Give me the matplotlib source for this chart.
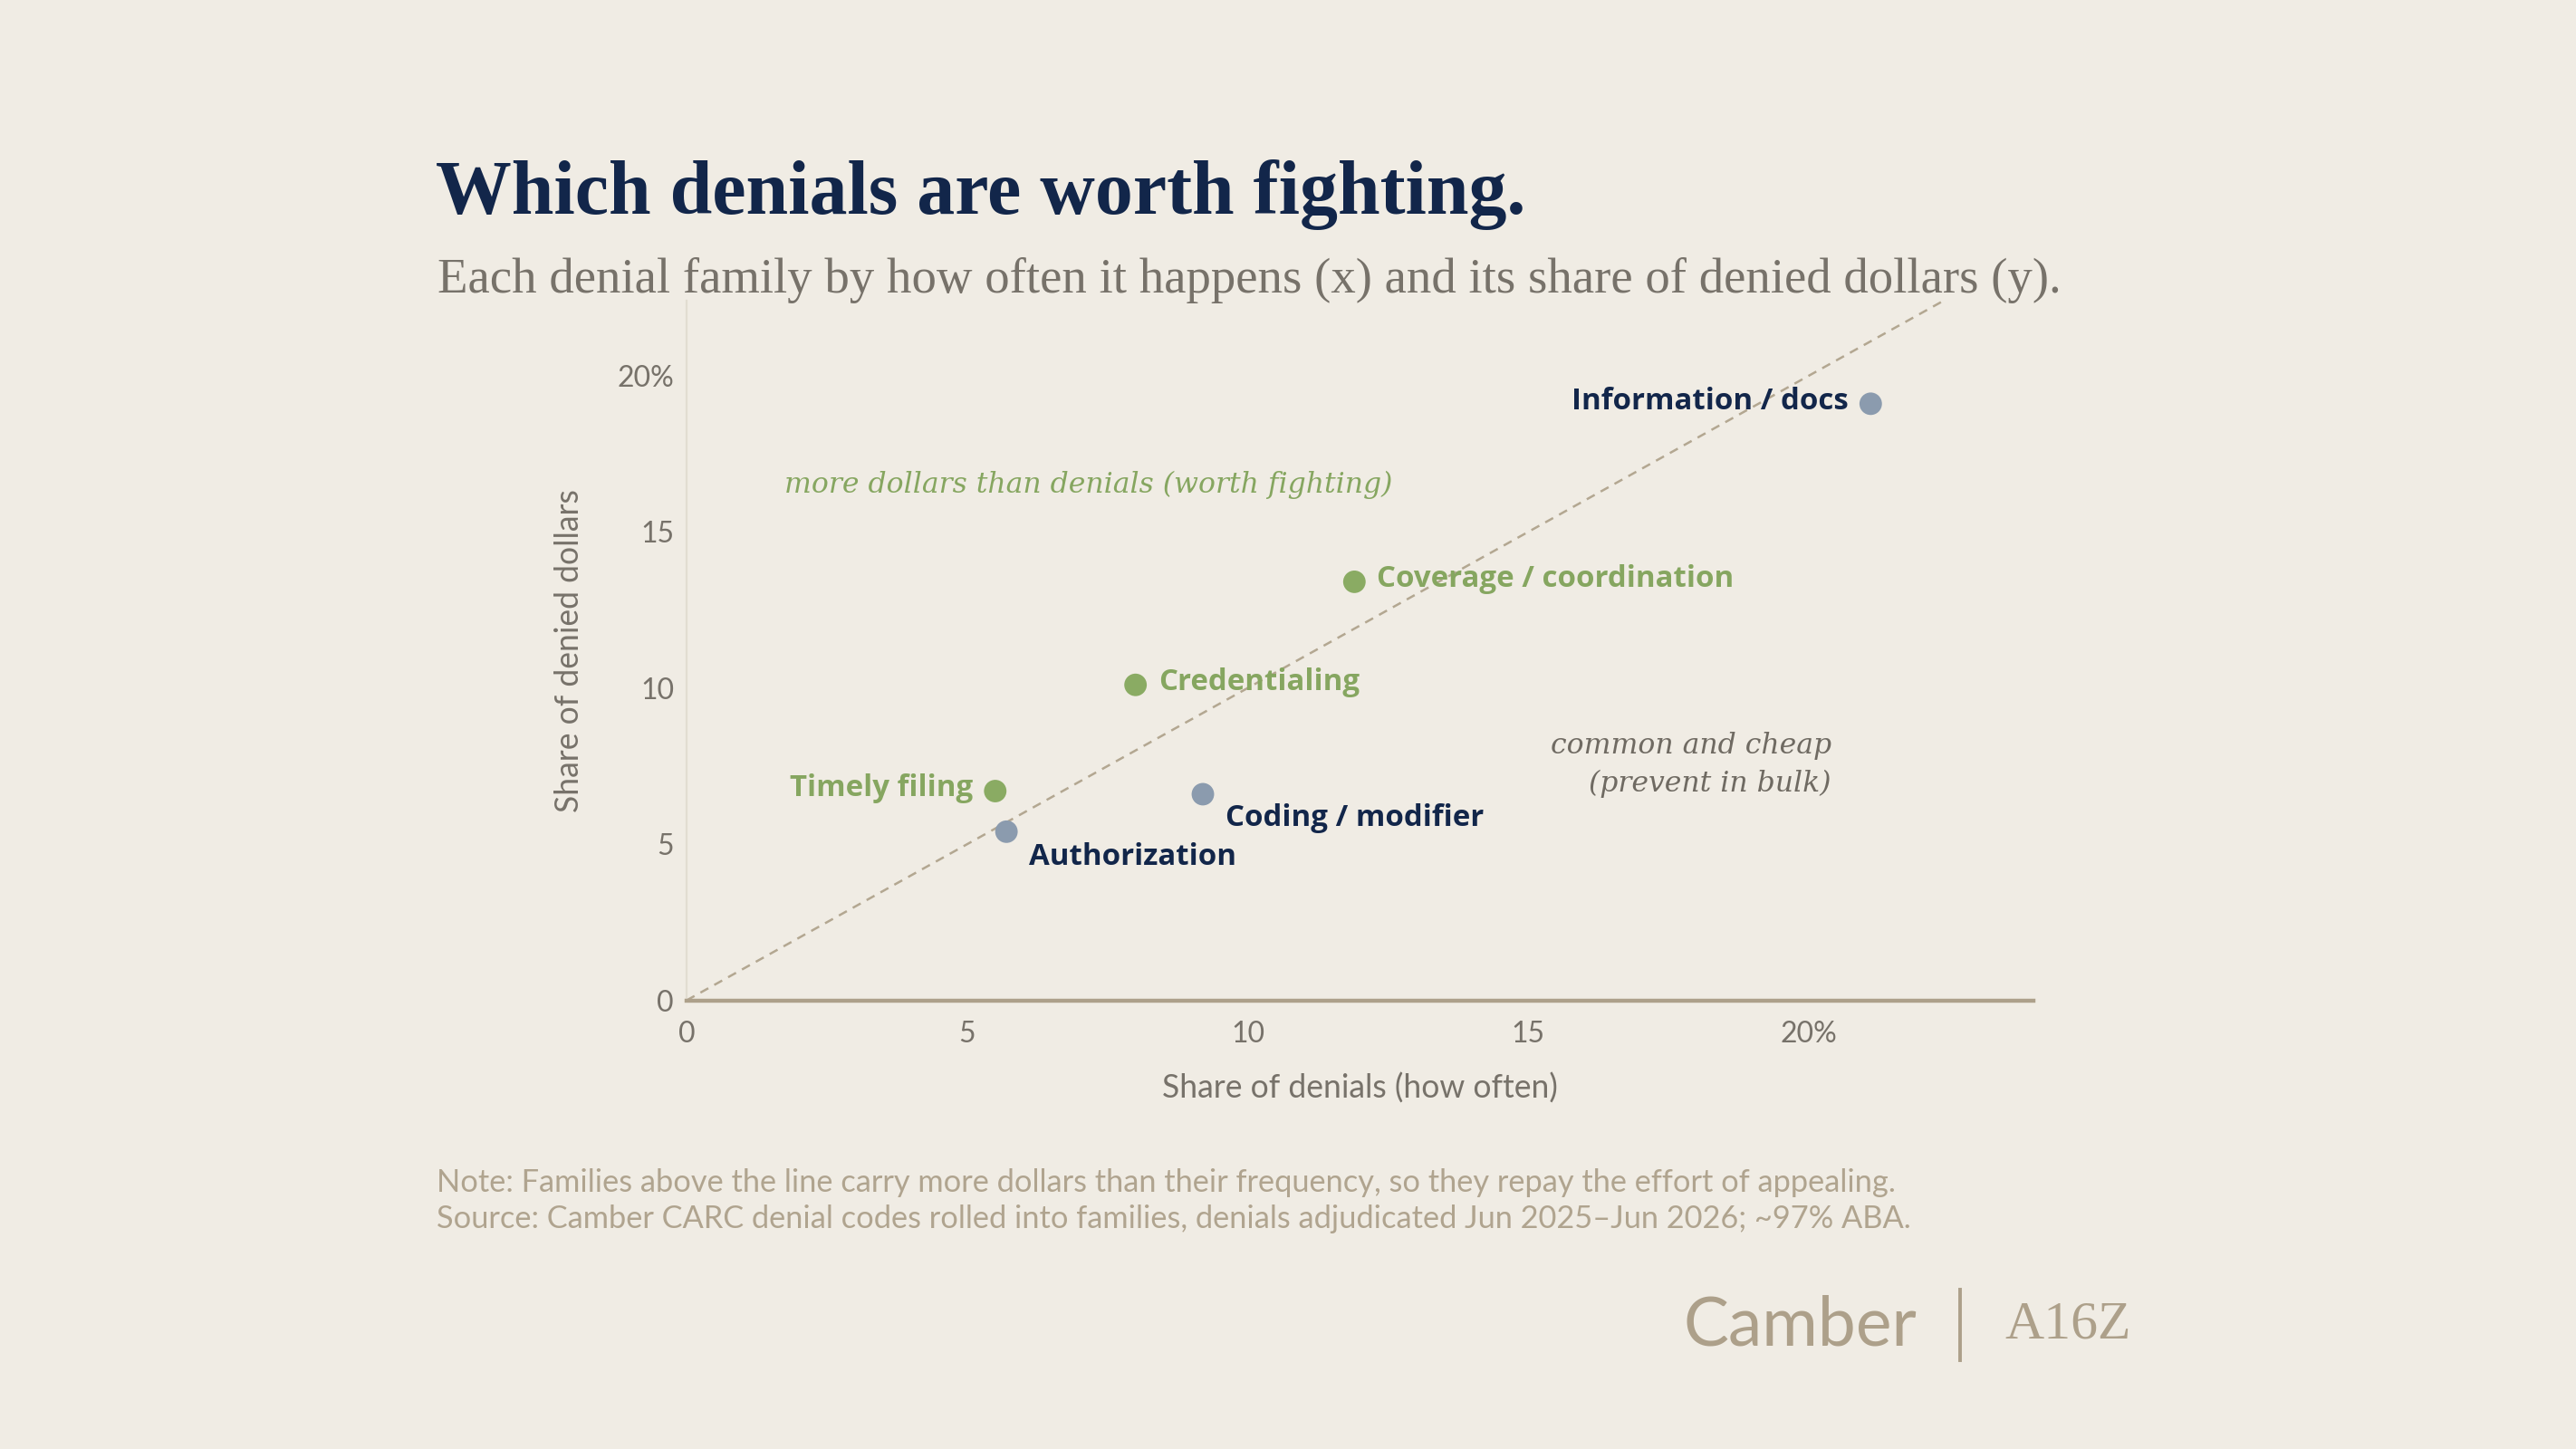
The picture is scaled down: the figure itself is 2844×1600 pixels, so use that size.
import matplotlib
matplotlib.use("Agg")
import matplotlib.pyplot as plt
import numpy as np

# ---- data ----
families = ["Information / docs", "Coverage / coordination", "Credentialing",
            "Timely filing", "Authorization", "Coding / modifier"]
share_denials = [21.1, 11.9, 8.0, 5.5, 5.7, 9.2]
share_dollars = [19.1, 13.4, 10.1, 6.7, 5.4, 6.6]
x_ticks = [0, 5, 10, 15, 20]
x_tick_labels = ["0", "5", "10", "15", "20%"]
y_ticks = [0, 5, 10, 15, 20]
y_tick_labels = ["0", "5", "10", "15", "20%"]

BG = "#f0ece4"
GREEN = "#8aab63"
GREEN_TXT = "#86a660"
BLUE_PT = "#8b9bae"
NAVY = "#12264a"
TAN = "#ada08a"
GREY = "#77726a"
SANS = ["Lato", "DejaVu Sans"]
LABEL_SANS = ["Open Sans", "Lato", "DejaVu Sans"]
SERIF = ["Liberation Serif", "DejaVu Serif"]
ITALIC_SERIF = ["DejaVu Serif"]

DPI = 200
fig = plt.figure(figsize=(2844 / DPI, 1600 / DPI), dpi=DPI, facecolor=BG)
ax = fig.add_axes([758 / 2844, 1 - 1104.6 / 1600, (2245 - 758) / 2844, (1104.6 - 332) / 1600])
ax.set_facecolor(BG)
ax.set_xlim(0, 24)
ax.set_ylim(0, 22.4)

for s in ["top", "right"]:
    ax.spines[s].set_visible(False)
ax.spines["left"].set_color("#e2ddd1")
ax.spines["left"].set_linewidth(0.8)
ax.spines["bottom"].set_color(TAN)
ax.spines["bottom"].set_linewidth(1.6)

ax.set_xticks(x_ticks)
ax.set_xticklabels(x_tick_labels)
ax.set_yticks(y_ticks)
ax.set_yticklabels(y_tick_labels)
ax.tick_params(axis="both", length=0, labelsize=11.5, labelcolor=GREY)
ax.tick_params(axis="x", pad=8)
ax.tick_params(axis="y", pad=5)
for lab in ax.get_xticklabels() + ax.get_yticklabels():
    lab.set_family(SANS)

ax.set_xlabel("Share of denials (how often)", family=SANS, fontsize=12.8, color=GREY, labelpad=10)
ax.set_ylabel("Share of denied dollars", family=SANS, fontsize=12.8, color=GREY, labelpad=13)

# parity line
ax.plot([0, 24], [0, 24], ls=(0, (4, 3)), color="#b3a791", lw=0.9, zorder=1)

# points
above = [yv > xv for xv, yv in zip(share_denials, share_dollars)]
colors = [GREEN if a else BLUE_PT for a in above]
ax.scatter(share_denials, share_dollars, s=80, c=colors, edgecolors="none", zorder=3)

# labels
label_pos = {
    "Information / docs": ((-9, 1), "right", "center"),
    "Coverage / coordination": ((9, 1), "left", "center"),
    "Credentialing": ((9, 1), "left", "center"),
    "Timely filing": ((-9, 1), "right", "center"),
    "Authorization": ((9, -10), "left", "center"),
    "Coding / modifier": ((9, -9.5), "left", "center"),
}
for name, xv, yv, a in zip(families, share_denials, share_dollars, above):
    off, ha, va = label_pos[name]
    ax.annotate(name, (xv, yv), xytext=off, textcoords="offset points",
                ha=ha, va=va, fontsize=11.9, fontweight="bold", family=LABEL_SANS,
                color=GREEN_TXT if a else NAVY, zorder=4)

ax.text(1.75, 16.5, "more dollars than denials (worth fighting)", family=ITALIC_SERIF,
        style="italic", fontsize=11.35, color=GREEN_TXT, ha="left", va="center")
ax.text(20.4, 7.55, "common and cheap\n(prevent in bulk)", family=ITALIC_SERIF,
        style="italic", fontsize=11.35, color="#6f6a62", ha="right", va="center",
        linespacing=1.45)

# title & subtitle
fig.text(481 / 2844, 1 - 236 / 1600, "Which denials are worth fighting.", family=SERIF,
         fontweight="bold", fontsize=30.2, color=NAVY, ha="left", va="baseline")
fig.text(483 / 2844, 1 - 323 / 1600,
         "Each denial family by how often it happens (x) and its share of denied dollars (y).",
         family=SERIF, fontsize=19.7, color=GREY, ha="left", va="baseline")

# footer
fig.text(482 / 2844, 1 - 1306 / 1600,
         "Note: Families above the line carry more dollars than their frequency, so they repay the effort of appealing.",
         family=SANS, fontsize=12.4, color="#b0a48f", ha="left", va="center")
fig.text(482 / 2844, 1 - 1346 / 1600,
         "Source: Camber CARC denial codes rolled into families, denials adjudicated Jun 2025\u2013Jun 2026; ~97% ABA.",
         family=SANS, fontsize=12.4, color="#b0a48f", ha="left", va="center")

# logos
fig.text(2116 / 2844, 1 - 1464 / 1600, "Camber", family=SANS, fontsize=27,
         color=TAN, ha="right", va="center")
fig.add_artist(plt.Line2D([2164 / 2844, 2164 / 2844], [1 - 1424 / 1600, 1 - 1502 / 1600],
                          color=TAN, lw=1.4, transform=fig.transFigure))
fig.text(2213 / 2844, 1 - 1464 / 1600, "A16Z", family=SERIF, fontsize=21.5,
         color=TAN, ha="left", va="center")

fig.savefig("out.png", dpi=DPI, facecolor=BG)
